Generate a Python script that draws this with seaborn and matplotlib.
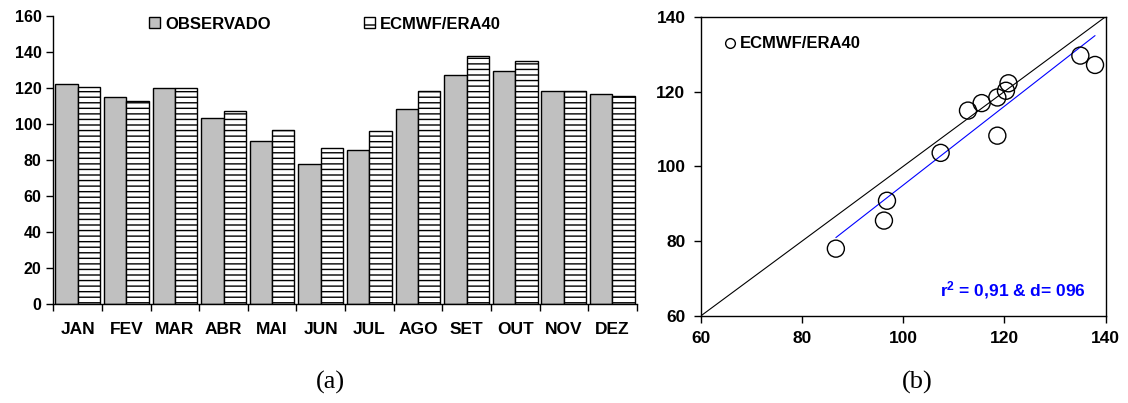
import numpy as np
import pandas as pd
import matplotlib
matplotlib.use("Agg")
import matplotlib.pyplot as plt
from matplotlib.patches import Patch
from matplotlib.lines import Line2D
import seaborn as sns

# --- data ---
months = ["JAN", "FEV", "MAR", "ABR", "MAI", "JUN", "JUL", "AGO", "SET", "OUT", "NOV", "DEZ"]
observado = [122.2, 114.9, 120.2, 103.6, 90.8, 78.0, 85.5, 108.2, 127.1, 129.6, 118.4, 116.9]
era40 = [120.8, 112.8, 120.3, 107.4, 96.8, 86.7, 96.2, 118.6, 137.9, 135.0, 118.6, 115.5]
series = ["OBSERVADO", "ECMWF/ERA40"]
stats_text = "r$^{2}$ = 0,91 & d= 096"

sns.set_theme(style="ticks")
plt.rcParams["font.family"] = ["Liberation Sans", "DejaVu Sans"]
plt.rcParams["font.weight"] = "bold"
plt.rcParams["text.color"] = "black"
plt.rcParams["xtick.color"] = "black"
plt.rcParams["ytick.color"] = "black"
plt.rcParams["xtick.labelcolor"] = "black"
plt.rcParams["ytick.labelcolor"] = "black"
plt.rcParams["mathtext.fontset"] = "custom"
plt.rcParams["mathtext.bf"] = "Liberation Sans:bold"
plt.rcParams["mathtext.rm"] = "Liberation Sans:bold"
plt.rcParams["mathtext.default"] = "bf"
plt.rcParams["hatch.linewidth"] = 1.0
plt.rcParams["hatch.color"] = "black"

df = pd.DataFrame({
    "mes": months * 2,
    "valor": observado + era40,
    "serie": [series[0]] * 12 + [series[1]] * 12,
})

fig = plt.figure(figsize=(11.28, 4.03), dpi=100)
ax1 = fig.add_axes([0.0473, 0.2449, 0.5172, 0.7154])
ax2 = fig.add_axes([0.6212, 0.2159, 0.3590, 0.7427])

# (a) bars
sns.barplot(data=df, x="mes", y="valor", hue="serie", hue_order=series,
            palette={series[0]: "#c0c0c0", series[1]: "white"},
            edgecolor="black", linewidth=1.0, width=0.92, ax=ax1, legend=False)
for bar in ax1.containers[1]:
    bar.set_hatch("---")

ax1.set_xlim(-0.5, 11.5)
ax1.set_ylim(0, 160)
ax1.set_yticks(np.arange(0, 161, 20))
ax1.set_xlabel("")
ax1.set_ylabel("")
sns.despine(ax=ax1)
ax1.set_xticks(np.arange(-0.5, 12, 1), minor=True)
ax1.tick_params(axis="x", which="major", length=0, pad=13, labelsize=12.5)
ax1.tick_params(axis="x", which="minor", length=5, width=1, direction="out")
ax1.tick_params(axis="y", length=5, width=1, labelsize=11.5)
for s in ax1.spines.values():
    s.set_color("black")
    s.set_linewidth(1)

handles = [Patch(facecolor="#c0c0c0", edgecolor="black", label=series[0]),
           Patch(facecolor="white", edgecolor="black", hatch="-", label=series[1])]
ax1.legend(handles=handles, ncol=2, frameon=False, loc="center left",
           bbox_to_anchor=(0.15, 0.972), borderpad=0, handlelength=0.65,
           handleheight=0.65, handletextpad=0.3, columnspacing=5.6,
           prop={"size": 12, "weight": "bold"})

# (b) scatter
sns.scatterplot(x=era40, y=observado, ax=ax2, s=150, facecolor="none",
                edgecolor="black", linewidth=1.0, zorder=3)
sns.regplot(x=era40, y=observado, ax=ax2, ci=None, scatter=False,
            line_kws={"color": "blue", "lw": 0.8})
ax2.axline((60, 60), slope=1, color="black", lw=0.8)
ax2.set_xlim(60, 140)
ax2.set_ylim(60, 140)
ax2.set_xticks(np.arange(60, 141, 20))
ax2.set_yticks(np.arange(60, 141, 20))
ax2.tick_params(length=5, width=1, labelsize=12.5, pad=6)
for s in ax2.spines.values():
    s.set_color("black")
    s.set_linewidth(1)

ax2.legend(handles=[Line2D([], [], ls="none", marker="o", ms=7, mfc="none",
                           mec="black", mew=1, label=series[1])],
           frameon=False, loc="center left", bbox_to_anchor=(0.035, 0.909),
           borderpad=0, handlelength=0.8, handletextpad=0.2,
           prop={"size": 12, "weight": "bold"})
ax2.text(0.951, 0.087, stats_text, transform=ax2.transAxes, ha="right",
         va="center", color="blue", fontsize=12.5, fontweight="bold")

fig.text(0.293, 0.052, "(a)", family="Liberation Serif", fontweight="normal",
         fontsize=19, ha="center", va="center")
fig.text(0.813, 0.050, "(b)", family="Liberation Serif", fontweight="normal",
         fontsize=19, ha="center", va="center")

fig.savefig("out.png", dpi=100, facecolor="white")
